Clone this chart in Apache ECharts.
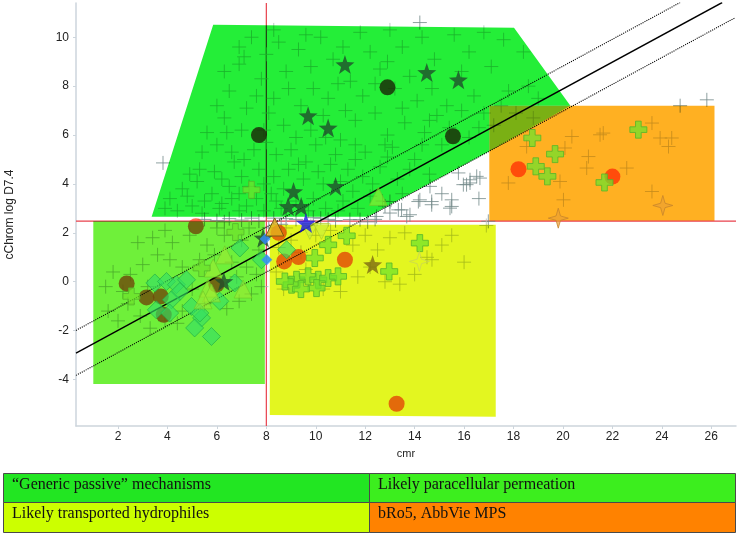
<!DOCTYPE html>
<html>
<head>
<meta charset="utf-8">
<script src="https://cdn.jsdelivr.net/npm/echarts@6/dist/echarts.min.js"></script>
<style>
html,body{margin:0;padding:0;background:#fff;}
#chart{width:738px;height:534px;}
</style>
</head>
<body>
<div id="chart"></div>
<script>
// ---------- axis ----------
const xTicks = [2,4,6,8,10,12,14,16,18,20,22,24,26];
const yTicks = [-4,-2,0,2,4,6,8,10];
const xName = 'cmr';
const yName = 'cChrom log D7.4';

// ---------- shaded regions (data coordinates) ----------
const passivePoly = [[3.36,2.66],[5.85,10.51],[18.02,10.39],[20.3,7.2],[17.02,7.2],[17.02,5.34],[12.1,2.66]];
const overlapPoly = [[17.02,7.2],[20.3,7.2],[17.02,5.34]];
const paraRect    = [[1.0,2.47],[7.94,2.47],[7.94,-4.18],[1.0,-4.18]];
const hydroRect   = [[8.14,2.33],[17.28,2.33],[17.28,-5.52],[8.14,-5.45]];
const bro5Rect    = [[17.02,7.2],[26.13,7.2],[26.13,2.49],[17.02,2.49]];

// ---------- reference & trend lines ----------
const refVertical   = [[8,-5.9],[8,11.4]];
const refHorizontal = [[0.3,2.48],[27,2.48]];
const trendLine  = [[0.3,-2.92],[26.44,11.42]];
const upperBand  = [[0.3,-1.99],[24.74,11.42]];
const lowerBand  = [[0.3,-3.83],[26.97,10.8]];

// ---------- gray "+" compounds ----------
const crossPassive = [
 [7.1,9.2],[8.5,9.8],[9.3,9.5],[10.2,10.0],[11.8,10.2],[13.5,9.6],[12.6,8.7],[9.8,8.8],[7.8,8.3],[6.5,7.8],
 [8.9,7.9],[10.5,7.5],[11.9,7.6],[13.2,7.9],[14.1,7.4],[15.3,7.2],[16.4,7.6],[17.1,8.8],[16.2,9.4],[14.8,9.1],
 [15.6,10.1],[13.0,10.3],[6.6,5.3],[5.6,6.1],[6.3,6.7],[7.2,7.1],[8.1,6.9],[8.7,6.4],[9.2,5.9],[10.0,5.6],
 [11.0,5.8],[11.6,6.6],[12.4,6.9],[13.6,6.5],[14.4,6.1],[15.1,5.6],[16.2,5.9],[17.2,6.4],[18.1,6.9],[17.8,7.8],
 [19.0,7.5],[12.0,5.3],[13.1,5.5],[14.0,5.0],[9.6,4.9],[8.4,5.2],[7.5,5.4],[6.7,4.9],[5.9,4.5],[5.2,4.1],
 [4.6,3.8],[4.1,3.4],[5.0,3.1],[5.8,3.6],[6.5,3.9],[7.0,4.3],[7.7,4.6],[8.3,4.3],[8.9,4.6],[9.5,4.2],
 [10.1,4.5],[10.6,4.8],[11.3,4.6],[11.9,4.3],[12.6,4.7],[13.3,4.2],[6.2,3.2],[6.9,2.9],[7.6,3.4],[8.2,3.6],
 [8.6,3.0],[9.9,3.4],[10.4,3.0],[11.1,3.3],[11.7,3.0],[12.2,3.5],[4.4,2.9],[5.4,2.8],[3.9,3.0],[7.3,3.9],
 [9.0,5.4],[10.8,5.2],[12.9,6.0],[14.7,7.9],[15.9,8.6],[11.4,8.2],[10.7,9.1],[8.0,9.3],[7.4,10.0],[12.2,9.4],
 [6.0,5.6],[7.0,6.2],[9.4,7.2],[10.3,6.8],[11.2,7.0],[13.8,8.4],[14.9,6.8],[16.8,6.9],[8.8,8.6],[6.9,8.9],
 [6.1,3.0],[6.6,3.4],[7.2,3.1],[7.9,2.9],[8.4,3.3],[9.2,3.3],[9.7,2.9],[10.9,2.9],[11.5,3.7],[12.7,3.3],
 [13.5,3.6],[5.5,3.3],[4.8,3.5],[5.3,4.6],[6.2,4.2],[6.9,3.6],[7.9,4.0],[8.7,3.8],[9.3,4.8],[10.3,4.0],
 [11.0,4.1],[11.6,5.0],[12.3,4.0],[12.9,5.1],[13.8,4.6],[14.6,4.4],[14.3,5.6],[15.4,6.3],[15.9,7.0],[16.6,6.3],
 [17.5,7.2],[18.6,8.0],[18.4,9.4],[17.6,9.9],[16.8,10.2],[14.3,10.0],[12.9,9.0],[11.1,9.6],[9.6,10.1],[8.3,10.3],
 [6.9,9.6],[6.3,8.6],[7.6,7.6],[8.3,7.5],[9.9,7.9],[10.9,8.1],[12.4,8.1],[13.5,7.1],[14.6,6.6],[6.0,7.2],
 [5.4,5.3],[4.9,4.4],[7.9,6.2],[9.8,6.2],[11.6,5.6],[8.0,5.7],[7.1,5.0],[6.4,6.1],[10.4,5.9],[12.8,5.6]
];
const crossWhite = [
 [3.82,4.86],[14.21,10.6],[15.77,4.45],[16.24,4.17],[16.51,4.31],[16.1,3.97],[14.62,3.9],[14.21,3.35],[14.69,3.28],[15.5,3.35],
 [15.43,3.01],[13.34,2.94],[13.0,3.28],[13.68,2.67],[16.98,2.47],[12.46,2.67],[13.47,2.94],[14.15,3.28],[14.69,3.15],[15.5,3.08],
 [15.97,3.97],[16.64,4.24],[16.24,4.04],[13.81,2.74],[13.0,2.81],[24.74,7.2],[25.82,7.44],[15.1,3.6],[16.6,3.4],[12.8,3.1],
 [5.5,2.55],[6.0,2.5],[6.5,2.58],[7.0,2.52],[7.4,2.6],[7.7,2.48],[8.3,2.6],[8.8,2.58],[9.2,2.55],[10.2,2.6],
 [10.8,2.5],[11.38,2.54],[11.79,2.54],[12.1,2.45],[10.5,2.55],[9.9,2.62],[8.6,2.35],[8.1,2.2],[12.4,2.55],[6.3,2.45]
];
const crossPara = [
 [1.6,-1.2],[2.0,-1.6],[2.4,-0.9],[2.9,-1.4],[3.3,-1.9],[3.9,-1.6],[4.4,-1.7],[5.5,-0.9],[6.4,-1.1],[6.9,-0.8],
 [7.4,-0.5],[7.6,0.3],[7.2,0.6],[6.6,0.8],[5.9,1.1],[5.3,0.9],[4.6,0.6],[4.1,0.9],[3.6,1.1],[3.0,0.7],
 [2.5,0.3],[3.2,-0.2],[4.2,1.6],[4.9,1.9],[5.6,1.5],[6.3,1.9],[7.0,1.7],[7.7,1.3],[3.9,2.1],[2.8,1.6],
 [1.8,0.4],[6.0,2.2],[5.0,-0.3],[6.8,0.2],[7.8,-0.2],[4.6,-1.2],[2.2,-0.4],[1.5,-0.2],[7.3,2.2],[3.4,1.8]
];
const crossHydro = [
 [8.5,1.4],[9.0,1.7],[9.4,1.2],[10.0,1.9],[10.6,2.1],[11.5,1.5],[12.0,1.9],[12.5,1.3],[13.0,1.8],[13.6,2.0],
 [14.5,1.0],[14.7,0.9],[16.0,0.8],[15.1,1.5],[12.2,0.6],[11.7,0.2],[12.8,0.0],[13.4,-0.1],[10.3,-0.3],[9.6,0.5],
 [8.7,-0.3],[8.4,0.4],[11.0,-0.4],[14.0,0.3],[15.5,1.9],[8.8,2.2],[9.8,2.3],[16.9,2.3]
];
const crossBro5 = [
 [21.5,6.01],[21.63,6.08],[20.36,5.94],[23.6,6.49],[23.93,5.88],[24.4,5.88],[24.27,5.53],[20.08,5.47],[21.03,5.12],[20.96,4.65],
 [22.58,4.65],[17.79,4.04],[19.88,4.1],[20.02,3.35],[23.6,3.69],[18.8,6.7],[18.53,5.53]
];

// ---------- highlighted compound sets ----------
const redCirclesPassive = [[7.7,6.0],[12.9,7.95],[15.55,5.95]];
const redCircles = [[18.2,4.6],[22.0,4.3],[5.15,2.27],[2.35,-0.07],[3.15,-0.64],
 [3.73,-0.6],[3.85,-1.35],[5.98,-0.12],[8.5,2.0],[8.72,0.83],[9.3,1.01],[11.18,0.9],[13.27,-4.99]];
const darkStars = [[11.18,8.88],[9.69,6.79],[10.5,6.29],[10.8,3.9],[9.1,3.69],[8.88,3.08],[9.41,3.08],[14.49,8.56],
 [15.77,8.26],[7.87,1.79],[6.28,0.01]];
const oliveStars = [[12.3,0.7]];
const blueStars = [[9.6,2.4]];
const goldTriangles = [[8.34,2.24]];
const blueSmall = [[7.95,1.75],[8.02,0.9]];
const goldSparkles = [[19.81,2.6],[24.04,3.12]];
const paleSparkles = [[14.19,0.83]];
const greenPlus = [[18.76,5.88],[19.68,5.22],[18.9,4.72],[19.37,4.31],[23.05,6.22],[21.68,4.06],
 [14.21,1.58],[12.97,0.42],[11.25,1.88],[10.5,1.51],[9.96,0.97],[9.22,0.08],[9.69,0.22],[10.1,0.08],
 [10.5,0.15],[10.9,0.22],[9.02,-0.12],[10.03,-0.26],[9.4,-0.3],[8.75,0.01],[6.75,2.03],[2.54,-0.6],[5.38,0.56],[7.4,3.76]];
const greenDiamonds = [[6.93,1.38],[7.8,0.9],[3.49,-0.05],[3.96,0.01],[4.36,-0.12],[4.77,0.08],[4.5,-0.4],[4.16,-0.74],
 [3.55,-1.15],[4.97,-1.01],[5.38,-1.48],[5.1,-1.89],[5.78,-2.24],[6.12,-0.8],[6.72,-0.05],[8.82,1.31],[4.09,-1.28],[5.31,-1.28]];
const greenTriangles = [[6.32,1.1],[5.85,0.56],[7.06,-0.3],[5.64,-0.26],[5.78,-0.46],[5.44,-0.74],[12.53,3.49]];
const paleTriangles = [[9.76,2.06],[10.23,2.06]];

// ---------- table (legend of regions) ----------
const tableLabels = [['\u201cGeneric passive\u201d mechanisms','Likely paracellular permeation'],
                     ['Likely transported hydrophiles','bRo5, AbbVie MPS']];

// ---------- styles ----------
const regionPolys  = [passivePoly, paraRect, hydroRect, bro5Rect, overlapPoly];
const regionColors = ['#24EE38', '#6FF03A', '#E3F620', '#FFB022', '#7AFF92'];
const tableColors  = [['#22E622','#3CEE1E'],['#CCFF00','#FF8200']];

const plusPath = 'path://M0,7L14,7M7,0L7,14';
const thickPlus = 'path://M3,0h3v3h3v3h-3v3h-3v-3h-3v-3h3z';
const sparkle = 'path://M5,0L6.1,3.9L10,5L6.1,6.1L5,10L3.9,6.1L0,5L3.9,3.9Z';
const star5 = 'path://M5,0L6.2,3.6L10,3.8L7,6.1L8.1,9.8L5,7.6L1.9,9.8L3,6.1L0,3.8L3.8,3.6Z';

function crossSeries(data, color) {
  return { type:'scatter', data, symbol: plusPath, symbolSize: 14, z: 1,
    itemStyle:{ color:'rgba(0,0,0,0)', borderColor:color, borderWidth:1 }, silent:true };
}
function lineSeries(data, color, width, type, z) {
  return { type:'line', data, symbol:'none', z, silent:true,
    lineStyle:{ color, width, type } };
}

const chart = echarts.init(document.getElementById('chart'), null, {renderer:'canvas'});
const graphics = [];
const colX = [3, 369], colW = [366, 366], rowY = [473, 502], rowH = [29, 30];
for (let r = 0; r < 2; r++) for (let c = 0; c < 2; c++) {
  graphics.push({ type:'rect', shape:{x:colX[c]+0.5, y:rowY[r]+0.5, width:colW[c], height:rowH[r]},
    style:{ fill: tableColors[r][c], stroke:'#4a4a4a', lineWidth:1 } });
  graphics.push({ type:'text', x: colX[c]+9, y: rowY[r]+12,
    style:{ text: tableLabels[r][c], fill:'#111', font:'16px "Liberation Serif", serif', verticalAlign:'middle' } });
}

chart.setOption({
  animation:false,
  backgroundColor:'#ffffff',
  grid:{ left:76, right:2, top:3, bottom:108, containLabel:false, outerBoundsMode:'none' },
  xAxis:{ type:'value', min:0.3, max:27, name:xName, nameLocation:'middle', nameGap:22,
    nameTextStyle:{ color:'#222', fontSize:11, fontFamily:'"Liberation Sans", Arial, sans-serif' },
    splitLine:{show:false},
    axisLine:{ onZero:false, lineStyle:{ color:'#cdd5dc', width:1.5 } },
    axisTick:{ show:true, customValues:xTicks, length:3, lineStyle:{color:'#cdd5dc'} },
    axisLabel:{ customValues:xTicks, color:'#222', fontSize:12, margin:5,
      fontFamily:'"Liberation Sans", Arial, sans-serif' } },
  yAxis:{ type:'value', min:-5.9, max:11.4, name:yName, nameLocation:'middle', nameGap:60, nameRotate:90,
    nameTextStyle:{ color:'#222', fontSize:12, fontFamily:'"Liberation Sans", Arial, sans-serif' },
    splitLine:{show:false},
    axisLine:{ show:true, onZero:false, lineStyle:{ color:'#cdd5dc', width:1.5 } },
    axisTick:{ show:true, customValues:yTicks, length:3, lineStyle:{color:'#cdd5dc'} },
    axisLabel:{ customValues:yTicks, color:'#222', fontSize:12, margin:7,
      fontFamily:'"Liberation Sans", Arial, sans-serif' } },
  graphic: graphics,
  series:[
    lineSeries(refVertical, '#e8404c', 1.2, 'solid', 0),
    lineSeries(refHorizontal, '#e8404c', 1.2, 'solid', 0),
    crossSeries(crossPassive, '#adbfba'), crossSeries(crossWhite, '#738a8a'), crossSeries(crossPara, '#a8b6b1'),
    crossSeries(crossHydro, '#b8c0b8'), crossSeries(crossBro5, '#c4c8c0'),
    { type:'scatter', data: redCircles, symbol:'circle', symbolSize:16, z:1, silent:true,
      itemStyle:{ color:'#FF4A26' } },
    { type:'scatter', data: redCirclesPassive, symbol:'circle', symbolSize:16, z:1, silent:true,
      itemStyle:{ color:'#B02414' } },
    { type:'custom', z:3, silent:true, clip:false, blendMode:'multiply',
      data: regionPolys.map((p,i)=>[i+1]),
      renderItem:(params, api)=>{
        const i = api.value(0) - 1;
        const pts = regionPolys[i].map(p=>api.coord(p));
        return { type:'polygon', shape:{points:pts},
          style:{ fill: regionColors[i] } };
      } },
    lineSeries(trendLine, '#000', 1.4, 'solid', 5),
    lineSeries(upperBand, '#000', 1.1, 'dotted', 5),
    lineSeries(lowerBand, '#000', 1.1, 'dotted', 5),
    { type:'scatter', data: greenDiamonds, symbol:'diamond', symbolSize:18, z:6, silent:true,
      itemStyle:{ color:'rgba(52,222,100,0.8)', borderColor:'rgba(30,170,70,0.8)', borderWidth:1 } },
    { type:'scatter', data: greenTriangles, symbol:'triangle', symbolSize:18, z:6, silent:true,
      itemStyle:{ color:'rgba(160,236,50,0.7)', borderColor:'rgba(110,200,40,0.8)', borderWidth:1 } },
    { type:'scatter', data: paleTriangles, symbol:'triangle', symbolRotate:180, symbolSize:16, z:6, silent:true,
      itemStyle:{ color:'rgba(200,240,60,0.8)', borderColor:'rgba(170,200,40,0.8)', borderWidth:1 } },
    { type:'scatter', data: greenPlus, symbol: thickPlus, symbolSize:17, z:6, silent:true,
      itemStyle:{ color:'rgba(110,226,44,0.92)', borderColor:'#55b52a', borderWidth:1 } },
    { type:'scatter', data: goldSparkles, symbol: sparkle, symbolSize:20, z:6, silent:true,
      itemStyle:{ color:'rgba(236,160,50,0.85)', borderColor:'#c8862a', borderWidth:1 } },
    { type:'scatter', data: paleSparkles, symbol: sparkle, symbolSize:20, z:6, silent:true,
      itemStyle:{ color:'rgba(0,0,0,0)', borderColor:'rgba(200,210,90,0.9)', borderWidth:1 } },
    { type:'scatter', data: darkStars, symbol: star5, symbolSize:19, z:7, silent:true, itemStyle:{ color:'#1F4D2C' } },
    { type:'scatter', data: oliveStars, symbol: star5, symbolSize:19, z:7, silent:true, itemStyle:{ color:'#7D6A14' } },
    { type:'scatter', data: blueSmall, symbol:'diamond', symbolSize:11, z:7, silent:true,
      itemStyle:{ color:'#2f8cff' } },
    { type:'scatter', data: goldTriangles, symbol:'triangle', symbolSize:18, z:7, silent:true,
      itemStyle:{ color:'#E2B21E', borderColor:'#6a5010', borderWidth:1 } },
    { type:'scatter', data: blueStars, symbol: star5, symbolSize:20, z:7, silent:true, itemStyle:{ color:'#1a1ae6' } }
  ]
});
</script>
</body>
</html>
